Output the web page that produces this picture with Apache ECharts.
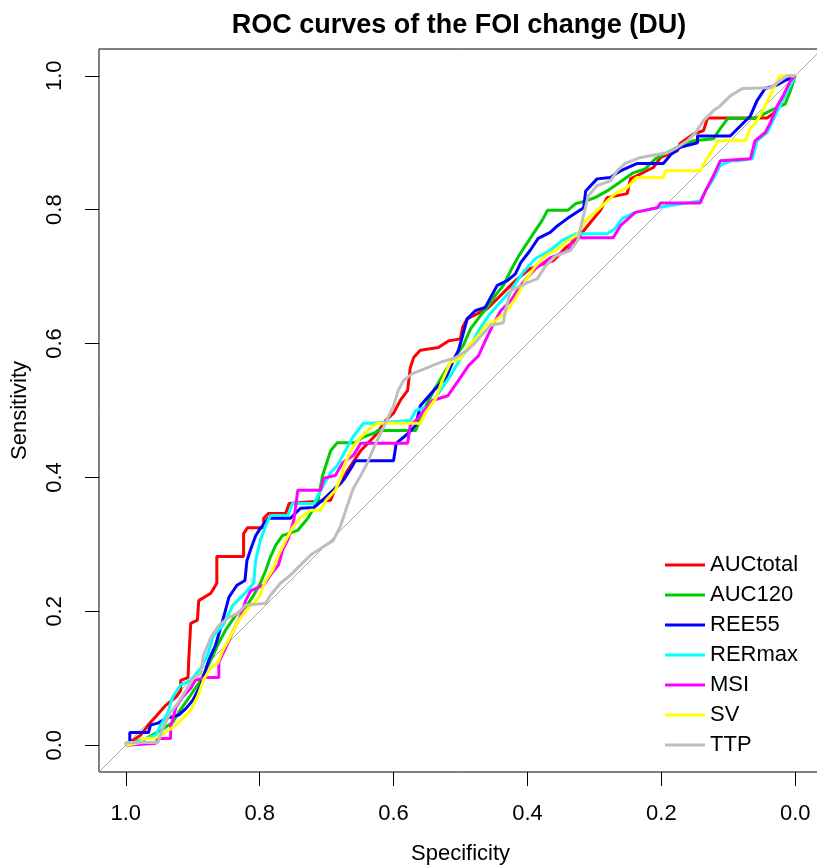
<!DOCTYPE html>
<html>
<head>
<meta charset="utf-8">
<title>ROC curves of the FOI change (DU)</title>
<script src="https://cdn.jsdelivr.net/npm/echarts@6/dist/echarts.min.js"></script>
<style>
  html, body { margin: 0; padding: 0; background: #fff; overflow: hidden; }
  #chart { width: 817px; height: 867px; }
</style>
</head>
<body>
<div id="chart"></div>
<script>
const tickValues = [0, 0.2, 0.4, 0.6, 0.8, 1.0];
const seriesNames = ['AUCtotal', 'AUC120', 'REE55', 'RERmax', 'MSI', 'SV', 'TTP'];
const seriesColors = ['#ff0000', '#00cd00', '#0000ff', '#00ffff', '#ff00ff', '#ffff00', '#bebebe'];

// reference line sens = 1 - spec, across the padded axis range
const diagonal = [[1.04, -0.04], [-0.04, 1.04]];

// points are [specificity, sensitivity]
const aucTotal = [
  [1.000, 0], [0.978, 0.015], [0.963, 0.034], [0.940, 0.060], [0.925, 0.072], [0.918, 0.082],
  [0.918, 0.097], [0.907, 0.101], [0.906, 0.127], [0.903, 0.182], [0.893, 0.187], [0.891, 0.216],
  [0.873, 0.227], [0.864, 0.242], [0.864, 0.282], [0.824, 0.282], [0.824, 0.316], [0.818, 0.325],
  [0.794, 0.325], [0.794, 0.339], [0.787, 0.346], [0.761, 0.346], [0.756, 0.361], [0.694, 0.366],
  [0.687, 0.384], [0.679, 0.391], [0.669, 0.410], [0.649, 0.440], [0.627, 0.463], [0.612, 0.485],
  [0.600, 0.496], [0.590, 0.515], [0.579, 0.530], [0.575, 0.564], [0.570, 0.579], [0.560, 0.590],
  [0.533, 0.594], [0.518, 0.604], [0.500, 0.607], [0.497, 0.624], [0.490, 0.637], [0.460, 0.652],
  [0.440, 0.672], [0.418, 0.694], [0.396, 0.712], [0.370, 0.721], [0.361, 0.724], [0.343, 0.743],
  [0.328, 0.754], [0.310, 0.776], [0.291, 0.799], [0.281, 0.818], [0.251, 0.824], [0.246, 0.846],
  [0.212, 0.863], [0.201, 0.878], [0.176, 0.888], [0.172, 0.899], [0.152, 0.913], [0.137, 0.918],
  [0.131, 0.937], [0.042, 0.937], [0.027, 0.948], [0.018, 0.967], [0.009, 0.985], [0, 1]
];
const auc120 = [
  [1.000, 0], [0.970, 0.010], [0.948, 0.022], [0.930, 0.034], [0.921, 0.049], [0.903, 0.075],
  [0.888, 0.097], [0.873, 0.127], [0.863, 0.149], [0.851, 0.172], [0.836, 0.194], [0.821, 0.206],
  [0.809, 0.224], [0.799, 0.242], [0.791, 0.261], [0.784, 0.281], [0.776, 0.299], [0.766, 0.313],
  [0.743, 0.321], [0.728, 0.339], [0.713, 0.366], [0.706, 0.403], [0.694, 0.440], [0.684, 0.452],
  [0.657, 0.452], [0.646, 0.460], [0.627, 0.467], [0.624, 0.470], [0.567, 0.470], [0.555, 0.500],
  [0.540, 0.530], [0.522, 0.560], [0.507, 0.582], [0.496, 0.597], [0.485, 0.622], [0.470, 0.642],
  [0.460, 0.654], [0.448, 0.672], [0.436, 0.687], [0.425, 0.709], [0.413, 0.731], [0.400, 0.751],
  [0.388, 0.769], [0.378, 0.784], [0.370, 0.799], [0.340, 0.799], [0.328, 0.809], [0.313, 0.813],
  [0.299, 0.818], [0.281, 0.828], [0.269, 0.836], [0.242, 0.855], [0.224, 0.861], [0.209, 0.876],
  [0.176, 0.893], [0.152, 0.903], [0.122, 0.906], [0.112, 0.921], [0.101, 0.936], [0.060, 0.936],
  [0.037, 0.948], [0.015, 0.958], [0.007, 0.978], [0, 1]
];
const ree55 = [
  [1.000, 0], [0.994, 0.004], [0.994, 0.019], [0.966, 0.019], [0.963, 0.030], [0.952, 0.033],
  [0.940, 0.040], [0.921, 0.045], [0.910, 0.055], [0.900, 0.067], [0.888, 0.090], [0.876, 0.127],
  [0.866, 0.149], [0.855, 0.187], [0.846, 0.221], [0.834, 0.239], [0.822, 0.246], [0.819, 0.276],
  [0.813, 0.294], [0.806, 0.313], [0.799, 0.324], [0.787, 0.339], [0.754, 0.339], [0.739, 0.354],
  [0.719, 0.355], [0.706, 0.366], [0.690, 0.381], [0.675, 0.396], [0.664, 0.413], [0.657, 0.425],
  [0.600, 0.425], [0.596, 0.451], [0.578, 0.466], [0.567, 0.478], [0.560, 0.507], [0.540, 0.530],
  [0.522, 0.548], [0.512, 0.572], [0.503, 0.590], [0.496, 0.615], [0.490, 0.637], [0.478, 0.649],
  [0.463, 0.654], [0.455, 0.669], [0.445, 0.687], [0.430, 0.694], [0.418, 0.704], [0.410, 0.721],
  [0.396, 0.739], [0.384, 0.757], [0.366, 0.766], [0.355, 0.776], [0.340, 0.787], [0.316, 0.803],
  [0.313, 0.828], [0.296, 0.846], [0.276, 0.848], [0.261, 0.858], [0.236, 0.869], [0.197, 0.869],
  [0.187, 0.881], [0.172, 0.893], [0.146, 0.900], [0.146, 0.910], [0.097, 0.910], [0.082, 0.925],
  [0.067, 0.940], [0.057, 0.963], [0.045, 0.981], [0.030, 0.985], [0.015, 0.993], [0, 1]
];
const rerMax = [
  [1.000, 0], [0.978, 0.007], [0.955, 0.015], [0.948, 0.030], [0.937, 0.049], [0.930, 0.072],
  [0.918, 0.090], [0.903, 0.097], [0.888, 0.115], [0.878, 0.134], [0.869, 0.164], [0.855, 0.179],
  [0.840, 0.209], [0.821, 0.228], [0.809, 0.242], [0.806, 0.276], [0.799, 0.306], [0.791, 0.328],
  [0.784, 0.343], [0.758, 0.343], [0.751, 0.361], [0.719, 0.361], [0.709, 0.381], [0.694, 0.407],
  [0.684, 0.418], [0.661, 0.460], [0.645, 0.481], [0.634, 0.481], [0.575, 0.485], [0.567, 0.500],
  [0.545, 0.507], [0.530, 0.530], [0.515, 0.552], [0.500, 0.578], [0.485, 0.597], [0.473, 0.619],
  [0.458, 0.642], [0.445, 0.657], [0.425, 0.679], [0.407, 0.706], [0.388, 0.727], [0.366, 0.739],
  [0.348, 0.754], [0.328, 0.764], [0.281, 0.764], [0.269, 0.772], [0.258, 0.787], [0.239, 0.796],
  [0.201, 0.804], [0.142, 0.813], [0.134, 0.828], [0.124, 0.843], [0.112, 0.866], [0.097, 0.873],
  [0.087, 0.873], [0.064, 0.876], [0.057, 0.903], [0.042, 0.915], [0.030, 0.940], [0.019, 0.963],
  [0.010, 0.981], [0, 1]
];
const msi = [
  [1.000, 0], [0.955, 0.003], [0.952, 0.010], [0.933, 0.010], [0.933, 0.027], [0.925, 0.057],
  [0.915, 0.072], [0.903, 0.085], [0.896, 0.097], [0.881, 0.101], [0.861, 0.101], [0.861, 0.124],
  [0.851, 0.145], [0.839, 0.172], [0.828, 0.194], [0.821, 0.216], [0.813, 0.231], [0.794, 0.239],
  [0.784, 0.254], [0.772, 0.269], [0.766, 0.291], [0.757, 0.309], [0.749, 0.336], [0.743, 0.381],
  [0.709, 0.381], [0.704, 0.399], [0.687, 0.403], [0.676, 0.422], [0.660, 0.433], [0.649, 0.451],
  [0.579, 0.451], [0.575, 0.478], [0.564, 0.488], [0.542, 0.515], [0.519, 0.522], [0.503, 0.545],
  [0.488, 0.567], [0.473, 0.582], [0.463, 0.604], [0.452, 0.627], [0.440, 0.649], [0.425, 0.664],
  [0.410, 0.687], [0.388, 0.712], [0.366, 0.728], [0.339, 0.739], [0.331, 0.758], [0.272, 0.758],
  [0.261, 0.776], [0.239, 0.796], [0.206, 0.803], [0.201, 0.810], [0.142, 0.810], [0.134, 0.828],
  [0.122, 0.851], [0.112, 0.873], [0.067, 0.876], [0.060, 0.903], [0.045, 0.915], [0.037, 0.930],
  [0.027, 0.955], [0.018, 0.970], [0.007, 0.993], [0, 1]
];
const sv = [
  [1.000, 0], [0.978, 0.004], [0.975, 0.010], [0.958, 0.010], [0.948, 0.015], [0.925, 0.030],
  [0.915, 0.040], [0.903, 0.052], [0.893, 0.072], [0.884, 0.097], [0.873, 0.116], [0.863, 0.122],
  [0.855, 0.142], [0.843, 0.164], [0.831, 0.187], [0.818, 0.204], [0.801, 0.221], [0.791, 0.246],
  [0.781, 0.261], [0.772, 0.284], [0.761, 0.306], [0.751, 0.325], [0.739, 0.340], [0.724, 0.351],
  [0.709, 0.351], [0.701, 0.366], [0.687, 0.381], [0.679, 0.399], [0.672, 0.422], [0.661, 0.445],
  [0.649, 0.460], [0.634, 0.475], [0.624, 0.481], [0.560, 0.481], [0.552, 0.497], [0.537, 0.518],
  [0.527, 0.545], [0.515, 0.572], [0.500, 0.578], [0.485, 0.600], [0.473, 0.612], [0.463, 0.627],
  [0.448, 0.634], [0.433, 0.646], [0.418, 0.667], [0.403, 0.694], [0.388, 0.716], [0.373, 0.731],
  [0.358, 0.739], [0.343, 0.751], [0.324, 0.764], [0.313, 0.784], [0.299, 0.796], [0.284, 0.810],
  [0.269, 0.824], [0.251, 0.833], [0.239, 0.846], [0.236, 0.848], [0.197, 0.848], [0.194, 0.858],
  [0.142, 0.858], [0.134, 0.873], [0.124, 0.888], [0.116, 0.903], [0.075, 0.903], [0.067, 0.921],
  [0.057, 0.933], [0.045, 0.955], [0.034, 0.978], [0.025, 0.996], [0.022, 1], [0, 1]
];
const ttp = [
  [1.000, 0], [1.000, 0.004], [0.952, 0.004], [0.945, 0.025], [0.933, 0.049], [0.922, 0.063],
  [0.910, 0.082], [0.899, 0.100], [0.888, 0.107], [0.884, 0.134], [0.873, 0.161], [0.861, 0.179],
  [0.846, 0.191], [0.833, 0.197], [0.821, 0.209], [0.791, 0.212], [0.784, 0.224], [0.769, 0.242],
  [0.754, 0.254], [0.739, 0.269], [0.724, 0.284], [0.709, 0.294], [0.690, 0.306], [0.679, 0.328],
  [0.669, 0.358], [0.660, 0.384], [0.649, 0.403], [0.639, 0.422], [0.630, 0.443], [0.619, 0.467],
  [0.609, 0.488], [0.600, 0.507], [0.593, 0.530], [0.585, 0.545], [0.572, 0.555], [0.552, 0.563],
  [0.530, 0.572], [0.507, 0.579], [0.490, 0.590], [0.478, 0.601], [0.466, 0.615], [0.455, 0.627],
  [0.436, 0.631], [0.433, 0.649], [0.425, 0.679], [0.400, 0.691], [0.385, 0.697], [0.373, 0.716],
  [0.358, 0.731], [0.336, 0.739], [0.325, 0.754], [0.318, 0.784], [0.309, 0.821], [0.296, 0.836],
  [0.276, 0.843], [0.266, 0.858], [0.254, 0.869], [0.231, 0.878], [0.191, 0.885], [0.179, 0.891],
  [0.161, 0.903], [0.149, 0.915], [0.137, 0.933], [0.122, 0.948], [0.112, 0.955], [0.097, 0.970],
  [0.079, 0.981], [0.037, 0.982], [0.022, 0.993], [0.012, 1], [0, 1]
];

const curves = [aucTotal, auc120, ree55, rerMax, msi, sv, ttp];
const font = '"Liberation Sans", Arial, sans-serif';

const chart = echarts.init(document.getElementById('chart'));

const series = [{
  name: 'diagonal',
  type: 'line',
  data: diagonal,
  symbol: 'none',
  silent: true,
  lineStyle: { color: '#a9a9a9', width: 1 }
}].concat(curves.map((d, i) => ({
  name: seriesNames[i],
  type: 'line',
  data: d,
  symbol: 'none',
  itemStyle: { color: seriesColors[i] },
  lineStyle: { color: seriesColors[i], width: 3 }
})));

chart.setOption({
  animation: false,
  textStyle: { fontFamily: font },
  title: {
    text: 'ROC curves of the FOI change (DU)',
    left: 454,
    top: 7,
    textAlign: 'center',
    textStyle: { fontSize: 27, fontWeight: 'bold', color: '#000', fontFamily: font }
  },
  legend: {
    data: seriesNames,
    orient: 'vertical',
    left: 660,
    top: 545,
    icon: 'rect',
    itemWidth: 40,
    itemHeight: 3,
    itemGap: 0,
    textStyle: { fontSize: 22, color: '#000', lineHeight: 30, fontFamily: font }
  },
  // plot box runs past the right edge of the canvas, as in the original
  grid: {
    left: 99, top: 49, width: 723, height: 723,
    outerBoundsMode: 'none',
    containLabel: false,
    show: true, borderColor: '#000', borderWidth: 1, backgroundColor: 'transparent'
  },
  xAxis: {
    type: 'value',
    inverse: true,
    min: -0.04,
    max: 1.04,
    name: 'Specificity',
    nameLocation: 'middle',
    nameGap: 71,
    nameTextStyle: { fontSize: 22, color: '#000', fontFamily: font },
    axisLine: { show: false, onZero: false },
    axisTick: { show: true, customValues: tickValues, length: 14, lineStyle: { color: '#000' } },
    axisLabel: {
      customValues: tickValues, margin: 31, fontSize: 22, color: '#000', fontFamily: font,
      formatter: v => v.toFixed(1)
    },
    splitLine: { show: false }
  },
  yAxis: {
    type: 'value',
    min: -0.04,
    max: 1.04,
    name: 'Sensitivity',
    nameLocation: 'middle',
    nameGap: 68,
    nameTextStyle: { fontSize: 22, color: '#000', fontFamily: font },
    axisLine: { show: false, onZero: false },
    axisTick: { show: true, customValues: tickValues, length: 14, lineStyle: { color: '#000' } },
    axisLabel: {
      customValues: tickValues, margin: 33, rotate: 90, fontSize: 22, color: '#000', fontFamily: font,
      formatter: v => v.toFixed(1)
    },
    splitLine: { show: false }
  },
  series: series
});
</script>
</body>
</html>
